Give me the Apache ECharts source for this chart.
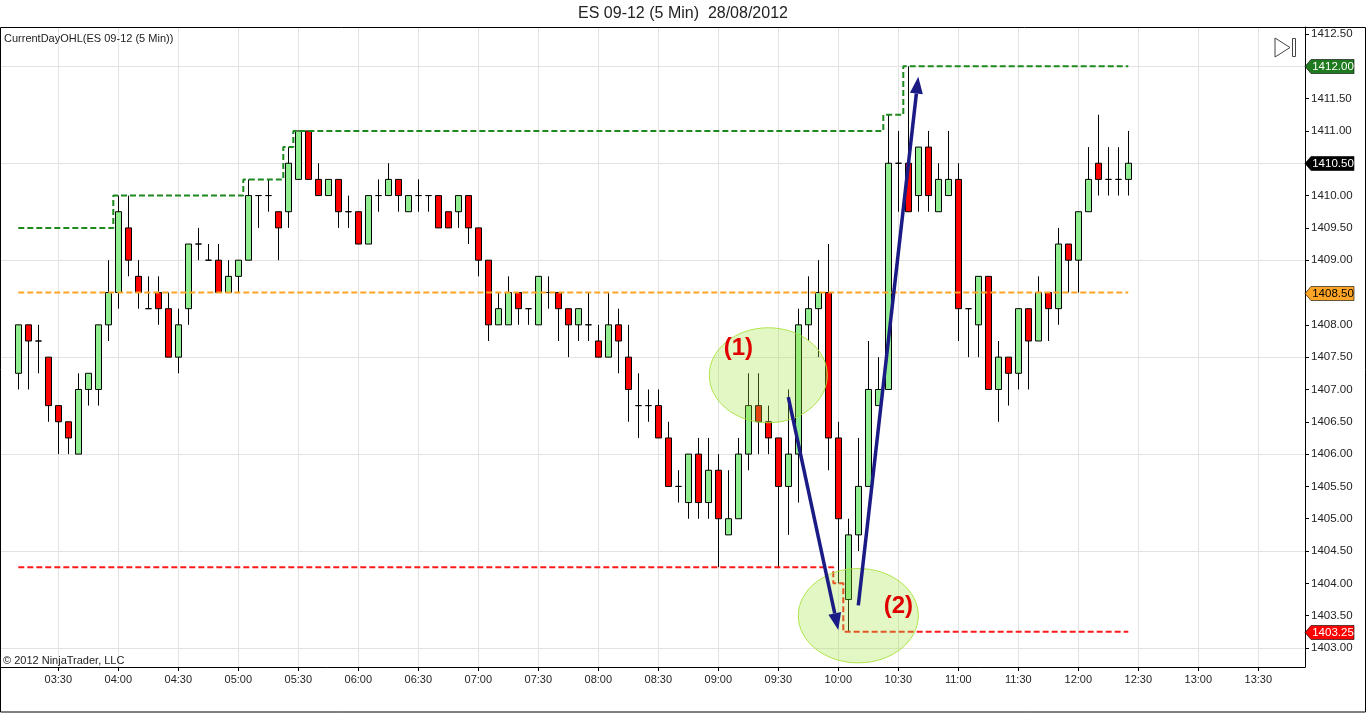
<!DOCTYPE html>
<html lang="en">
<head>
<meta charset="utf-8">
<title>ES 09-12 (5 Min)  28/08/2012</title>
<script src="https://cdn.jsdelivr.net/npm/echarts@6/dist/echarts.min.js"></script>
<style>
    html, body { margin: 0; padding: 0; background: #fff; }
    #chart { width: 1366px; height: 713px; }
</style>
</head>
<body>
<div id="chart"></div>
<script>
// ---- data (ES 09-12, 5 min bars, first bar 03:10) ----
var firstBar = '03:10';
var barMinutes = 5;

var barOpen = [
    1407.25, 1408.0, 1407.75, 1407.5, 1406.75, 1406.5, 1406.0, 1407.0, 1407.0, 1408.0,
    1408.5, 1409.5, 1408.75, 1408.25, 1408.5, 1408.25, 1407.5, 1408.25, 1409.25, 1409.0,
    1409.0, 1408.5, 1408.75, 1409.0, 1410.0, 1410.0, 1409.75, 1409.75, 1410.25, 1411.0,
    1410.25, 1410.0, 1410.25, 1409.75, 1409.75, 1409.25, 1410.0, 1410.0, 1410.25, 1409.75,
    1410.0, 1410.0, 1410.0, 1409.75, 1409.75, 1410.0, 1409.5, 1409.0, 1408.0, 1408.0,
    1408.5, 1408.25, 1408.0, 1408.5, 1408.5, 1408.25, 1408.0, 1408.0, 1407.75, 1407.5,
    1408.0, 1407.5, 1406.75, 1406.75, 1406.75, 1406.25, 1405.5, 1405.25, 1406.0, 1405.25,
    1405.75, 1404.75, 1405.0, 1406.0, 1406.75, 1406.5, 1406.25, 1405.5, 1406.0, 1408.0,
    1408.25, 1408.5, 1406.25, 1403.75, 1404.75, 1405.5, 1406.75, 1407.0, 1410.5, 1410.5,
    1410.0, 1410.75, 1409.75, 1410.0, 1410.25, 1408.25, 1408.0, 1408.75, 1407.0, 1407.5,
    1407.25, 1408.25, 1407.75, 1408.5, 1408.25, 1409.25, 1409.0, 1409.75, 1410.5, 1410.25,
    1410.25, 1410.25
];
var barClose = [
    1408.0, 1407.75, 1407.75, 1406.75, 1406.5, 1406.25, 1407.0, 1407.25, 1408.0, 1408.5,
    1409.75, 1409.0, 1408.5, 1408.25, 1408.25, 1407.5, 1408.0, 1409.25, 1409.25, 1409.0,
    1408.5, 1408.75, 1409.0, 1410.0, 1410.0, 1410.0, 1409.5, 1410.5, 1411.0, 1410.25,
    1410.0, 1410.25, 1409.75, 1409.75, 1409.25, 1410.0, 1410.0, 1410.25, 1410.0, 1410.0,
    1410.0, 1410.0, 1409.5, 1409.5, 1410.0, 1409.5, 1409.0, 1408.0, 1408.25, 1408.5,
    1408.25, 1408.25, 1408.75, 1408.5, 1408.25, 1408.0, 1408.25, 1408.0, 1407.5, 1408.0,
    1407.75, 1407.0, 1406.75, 1406.75, 1406.25, 1405.5, 1405.5, 1406.0, 1405.25, 1405.75,
    1405.0, 1405.0, 1406.0, 1406.75, 1406.5, 1406.25, 1405.5, 1406.0, 1408.0, 1408.25,
    1408.5, 1406.25, 1405.0, 1404.75, 1405.5, 1407.0, 1407.0, 1410.5, 1410.5, 1409.75,
    1410.75, 1410.0, 1410.25, 1410.25, 1408.25, 1408.25, 1408.75, 1407.0, 1407.5, 1407.25,
    1408.25, 1407.75, 1408.5, 1408.25, 1409.25, 1409.0, 1409.75, 1410.25, 1410.25, 1410.25,
    1410.25, 1410.5
];
var barLow = [
    1407.0, 1407.0, 1407.25, 1406.5, 1406.0, 1406.0, 1406.0, 1406.75, 1406.75, 1407.75,
    1408.25, 1408.75, 1408.25, 1408.25, 1408.0, 1407.5, 1407.25, 1408.0, 1409.0, 1409.0,
    1408.5, 1408.5, 1408.5, 1409.0, 1409.5, 1409.75, 1409.0, 1409.5, 1410.25, 1410.25,
    1410.0, 1410.0, 1409.5, 1409.5, 1409.25, 1409.25, 1409.75, 1410.0, 1409.75, 1409.75,
    1409.75, 1409.75, 1409.5, 1409.5, 1409.5, 1409.25, 1408.75, 1407.75, 1408.0, 1408.0,
    1408.0, 1408.0, 1408.0, 1408.25, 1407.75, 1407.5, 1407.75, 1407.75, 1407.5, 1407.5,
    1407.25, 1406.5, 1406.25, 1406.5, 1406.25, 1405.5, 1405.25, 1405.0, 1405.0, 1405.0,
    1404.25, 1404.75, 1405.0, 1405.75, 1406.0, 1406.0, 1404.25, 1404.75, 1405.25, 1407.75,
    1407.5, 1405.75, 1404.0, 1403.25, 1404.5, 1405.5, 1406.75, 1407.0, 1409.75, 1409.75,
    1409.75, 1409.75, 1409.75, 1410.0, 1407.75, 1407.5, 1407.5, 1407.0, 1406.5, 1406.75,
    1407.0, 1407.0, 1407.75, 1407.75, 1408.0, 1408.5, 1408.5, 1409.75, 1410.0, 1410.0,
    1410.0, 1410.0
];
var barHigh = [
    1408.0, 1408.0, 1408.0, 1407.5, 1406.75, 1406.5, 1407.25, 1407.25, 1408.0, 1409.0,
    1410.0, 1410.0, 1409.0, 1408.75, 1408.75, 1408.5, 1408.25, 1409.25, 1409.5, 1409.25,
    1409.25, 1409.0, 1409.0, 1410.25, 1410.0, 1410.25, 1409.75, 1410.75, 1411.0, 1411.0,
    1410.5, 1410.25, 1410.25, 1410.0, 1409.75, 1410.0, 1410.25, 1410.5, 1410.25, 1410.0,
    1410.25, 1410.0, 1410.0, 1409.75, 1410.0, 1410.0, 1409.5, 1409.0, 1408.5, 1408.75,
    1408.5, 1408.25, 1408.75, 1408.75, 1408.5, 1408.25, 1408.25, 1408.5, 1408.0, 1408.5,
    1408.25, 1408.0, 1407.25, 1407.0, 1407.0, 1406.5, 1405.75, 1406.0, 1406.25, 1406.25,
    1406.0, 1405.75, 1406.25, 1407.25, 1407.25, 1406.75, 1406.25, 1407.0, 1408.25, 1408.75,
    1409.0, 1409.25, 1406.5, 1405.0, 1406.25, 1407.75, 1407.5, 1411.25, 1411.0, 1412.0,
    1410.75, 1411.0, 1410.5, 1411.0, 1410.5, 1408.25, 1408.75, 1408.75, 1407.75, 1407.5,
    1408.25, 1408.25, 1408.75, 1408.5, 1409.5, 1409.25, 1409.75, 1410.75, 1411.25, 1410.75,
    1410.75, 1411.0
];

// CurrentDayOHL levels: value and the bar where it starts
var highLevels = [1409.5, 1410.0, 1410.25, 1410.75, 1411.0, 1411.25, 1412.0];
var highFrom   = ['03:10', '04:00', '05:05', '05:25', '05:30', '10:25', '10:35'];
var lowLevels  = [1404.25, 1404.0, 1403.25];
var lowFrom    = ['03:10', '10:00', '10:05'];
var openLevels = [1408.5];
var openFrom   = ['03:10'];

var xTickLabels = ['03:30', '04:00', '04:30', '05:00', '05:30', '06:00', '06:30', '07:00', '07:30',
    '08:00', '08:30', '09:00', '09:30', '10:00', '10:30', '11:00', '11:30', '12:00', '12:30',
    '13:00', '13:30'];
var yTickLabels = [1403.0, 1403.5, 1404.0, 1404.5, 1405.0, 1405.5, 1406.0, 1406.5, 1407.0, 1407.5,
    1408.0, 1408.5, 1409.0, 1409.5, 1410.0, 1410.5, 1411.0, 1411.5, 1412.0, 1412.5];
var yGridLines = [1403.0, 1404.5, 1406.0, 1407.5, 1409.0, 1410.5, 1412.0];

// drawn annotations, in chart coordinates (time, price)
var ellipseNotes = [
    {at: ['09:25', 1407.22], halfMin: 29.5, halfPrice: 0.735},
    {at: ['10:10', 1403.50], halfMin: 30, halfPrice: 0.73}
];
var arrowNotes = [
    {from: ['09:35', 1406.88], to: ['10:00', 1403.28]},
    {from: ['10:10', 1403.66], to: ['10:40', 1411.84]}
];
var textNotes = [
    {text: '(1)', at: ['09:10', 1407.63]},
    {text: '(2)', at: ['10:30', 1403.65]}
];

var fontFamily = '"Liberation Sans", Arial, sans-serif';

function toMin(s) {
    var p = s.split(':');
    return (+p[0]) * 60 + (+p[1]);
}
function fmtTime(m) {
    var h = Math.floor(m / 60), mm = Math.round(m - h * 60);
    return (h < 10 ? '0' : '') + h + ':' + (mm < 10 ? '0' : '') + mm;
}

var t0 = toMin(firstBar);
var barTimes = barOpen.map(function (v, i) { return t0 + i * barMinutes; });

var candleData = barTimes.map(function (t, i) {
    return [t, barOpen[i], barClose[i], barLow[i], barHigh[i]];
});

function levelLine(levels, from) {
    var starts = from.map(toMin);
    return barTimes.map(function (t) {
        var v = levels[0];
        for (var k = 0; k < starts.length; k++) {
            if (starts[k] <= t) v = levels[k];
        }
        return [t, v];
    });
}
var highLine = levelLine(highLevels, highFrom);
var lowLine = levelLine(lowLevels, lowFrom);
var openLine = levelLine(openLevels, openFrom);

var xTicks = xTickLabels.map(toMin);
// axis extents chosen so the plot frame matches the original window
var xMin = 181.35, xMax = 833.35;
var yMin = 1402.706, yMax = 1412.608;

var chart = echarts.init(document.getElementById('chart'));

var option = {
    animation: false,
    backgroundColor: '#fff',
    grid: {left: 1, top: 27, width: 1304, height: 640, containLabel: false, outerBoundsMode: 'none'},
    xAxis: {
        type: 'value', min: xMin, max: xMax,
        axisLine: {show: true, onZero: false, lineStyle: {color: '#000', width: 1}},
        axisTick: {show: true, length: 4, customValues: xTicks, lineStyle: {color: '#000'}},
        axisLabel: {
            customValues: xTicks, formatter: fmtTime, margin: 7,
            color: '#222', fontSize: 11, fontFamily: fontFamily
        },
        splitLine: {show: true, lineStyle: {color: '#e3e3e3', width: 1}}
    },
    yAxis: [{
        type: 'value', position: 'right', min: yMin, max: yMax,
        axisLine: {show: true, onZero: false, lineStyle: {color: '#000', width: 1}},
        axisTick: {show: true, length: 4, customValues: yTickLabels, lineStyle: {color: '#000'}},
        axisLabel: {
            customValues: yTickLabels, formatter: function (v) { return v.toFixed(2); },
            margin: 6, color: '#222', fontSize: 11.5, fontFamily: fontFamily
        },
        splitLine: {show: false}
    }, {
        type: 'value', position: 'right', min: yMin, max: yMax,
        axisLine: {show: false},
        axisTick: {show: false, customValues: yGridLines},
        axisLabel: {show: false, customValues: yGridLines},
        splitLine: {show: true, lineStyle: {color: '#e3e3e3', width: 1}}
    }],
    series: [{
        name: 'ES 09-12',
        type: 'candlestick',
        data: candleData,
        barWidth: 7,
        z: 3,
        itemStyle: {
            color: '#90ee90', color0: '#ff0000',
            borderColor: '#000', borderColor0: '#000', borderWidth: 1
        }
    }, {
        name: 'High', type: 'line', step: 'middle', data: highLine, symbol: 'none', z: 4,
        lineStyle: {color: '#1d8a1d', width: 2, type: [6, 3]}
    }, {
        name: 'Low', type: 'line', step: 'middle', data: lowLine, symbol: 'none', z: 4,
        lineStyle: {color: '#ff1a1a', width: 2, type: [6, 3]}
    }, {
        name: 'Open', type: 'line', step: 'middle', data: openLine, symbol: 'none', z: 4,
        lineStyle: {color: '#ffa526', width: 2, type: [6, 3]}
    }]
};
chart.setOption(option);

// ---- overlays placed through the chart's own scales ----
function px(t, p) {
    return chart.convertToPixel({seriesIndex: 0}, [typeof t === 'string' ? toMin(t) : t, p]);
}

var g = [];
// frame and header
g.push({type: 'rect', z: 10, shape: {x: 0.5, y: 27.5, width: 1365, height: 684.5},
    style: {fill: 'none', stroke: '#000', lineWidth: 1}});
g.push({type: 'text', z: 10, x: 683, y: 14,
    style: {text: 'ES 09-12 (5 Min)  28/08/2012', font: '16px ' + fontFamily, fill: '#222',
        textAlign: 'center', textVerticalAlign: 'middle'}});
g.push({type: 'text', z: 10, x: 4, y: 39,
    style: {text: 'CurrentDayOHL(ES 09-12 (5 Min))', font: '11px ' + fontFamily, fill: '#222',
        textVerticalAlign: 'middle'}});
g.push({type: 'text', z: 10, x: 3, y: 661,
    style: {text: '\u00a9 2012 NinjaTrader, LLC', font: '11px ' + fontFamily, fill: '#222',
        textVerticalAlign: 'middle'}});
// scroll-to-end button
g.push({type: 'polygon', z: 10, shape: {points: [[1275, 38], [1290, 47.5], [1275, 57]]},
    style: {fill: 'none', stroke: '#444', lineWidth: 1}});
g.push({type: 'rect', z: 10, shape: {x: 1292.5, y: 38.5, width: 3, height: 18},
    style: {fill: 'none', stroke: '#444', lineWidth: 1}});

// ellipses
ellipseNotes.forEach(function (e) {
    var c = px(e.at[0], e.at[1]);
    var r = px(toMin(e.at[0]) + e.halfMin, e.at[1] + e.halfPrice);
    g.push({type: 'ellipse', z: 20,
        shape: {cx: c[0], cy: c[1], rx: Math.abs(r[0] - c[0]), ry: Math.abs(c[1] - r[1])},
        style: {fill: 'rgba(160,230,60,0.30)', stroke: 'rgba(170,225,60,0.9)', lineWidth: 1}});
});

// arrows
arrowNotes.forEach(function (a) {
    var p1 = px(a.from[0], a.from[1]);
    var p2 = px(a.to[0], a.to[1]);
    var dx = p2[0] - p1[0], dy = p2[1] - p1[1];
    var len = Math.sqrt(dx * dx + dy * dy);
    var ux = dx / len, uy = dy / len;
    var headLen = 17, headHalf = 6.5;
    var bx = p2[0] - ux * headLen, by = p2[1] - uy * headLen;
    g.push({type: 'line', z: 22, shape: {x1: p1[0], y1: p1[1], x2: bx, y2: by},
        style: {stroke: '#1b1b86', lineWidth: 3.5}});
    g.push({type: 'polygon', z: 22,
        shape: {points: [[p2[0], p2[1]], [bx - uy * headHalf, by + ux * headHalf], [bx + uy * headHalf, by - ux * headHalf]]},
        style: {fill: '#1b1b86'}});
});

// (1) (2)
textNotes.forEach(function (n) {
    var p = px(n.at[0], n.at[1]);
    g.push({type: 'text', z: 23, x: p[0], y: p[1],
        style: {text: n.text, font: 'bold 24px ' + fontFamily, fill: '#e00000',
            textAlign: 'center', textVerticalAlign: 'middle'}});
});

// price tags on the axis
var tags = [
    {value: highLine[highLine.length - 1][1], bg: '#1f7a1f', fg: '#fff'},
    {value: barClose[barClose.length - 1], bg: '#000', fg: '#fff'},
    {value: openLine[openLine.length - 1][1], bg: '#ffa526', fg: '#000'},
    {value: lowLine[lowLine.length - 1][1], bg: '#ff0000', fg: '#fff'}
];
tags.forEach(function (tg) {
    var p = px(xMax, tg.value);
    var x = Math.round(p[0]), y = Math.round(p[1]) + 0.5;
    g.push({type: 'polygon', z: 30,
        shape: {points: [[x, y], [x + 6, y - 7], [x + 49, y - 7], [x + 49, y + 7], [x + 6, y + 7]]},
        style: {fill: tg.bg, stroke: '#000', lineWidth: 0.6}});
    g.push({type: 'text', z: 31, x: x + 28, y: y,
        style: {text: tg.value.toFixed(2), font: '11.5px ' + fontFamily, fill: tg.fg,
            textAlign: 'center', textVerticalAlign: 'middle'}});
});

chart.setOption({graphic: g});
</script>
</body>
</html>
